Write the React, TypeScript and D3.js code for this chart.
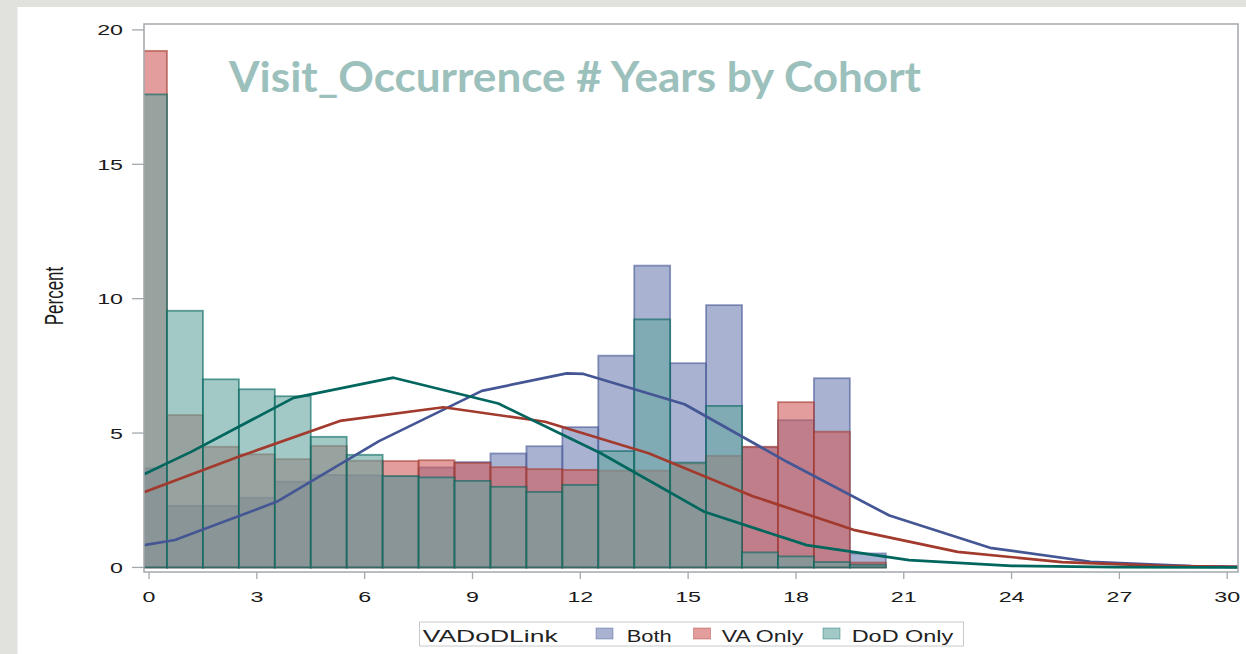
import * as d3 from 'd3';

// histogram bins (years), percent of each cohort
const years = [0, 1, 2, 3, 4, 5, 6, 7, 8, 9, 10, 11, 12, 13, 14, 15, 16, 17, 18, 19, 20];
const both = [3.69, 2.29, 2.29, 2.59, 3.19, 3.44, 3.43, 3.38, 3.72, 3.92, 4.24, 4.51, 5.22, 7.88, 11.23, 7.6, 9.76, 4.47, 5.48, 7.04, 0.52];
const vaOnly = [19.22, 5.67, 4.49, 4.21, 4.03, 4.52, 3.97, 3.96, 3.99, 3.89, 3.73, 3.66, 3.63, 3.6, 3.6, 3.86, 4.15, 4.49, 6.15, 5.05, 0.18];
const dodOnly = [17.6, 9.55, 7.0, 6.63, 6.37, 4.86, 4.19, 3.4, 3.35, 3.22, 3.0, 2.81, 3.07, 4.33, 9.23, 3.9, 6.01, 0.56, 0.41, 0.2, 0.1];

// fitted density curves, read at their vertices
const bothCurveX = [-0.14, 0.72, 3.55, 6.4, 9.26, 11.62, 12.09, 14.9, 17.75, 20.6, 23.4, 26.2, 29.0, 30.3];
const bothCurveY = [0.83, 1.02, 2.44, 4.7, 6.57, 7.22, 7.2, 6.07, 3.93, 1.93, 0.73, 0.21, 0.05, 0.02];
const vaCurveX = [-0.14, 2.45, 5.31, 8.19, 11.02, 13.9, 16.8, 19.6, 22.5, 25.4, 28.2, 30.3];
const vaCurveY = [2.8, 4.1, 5.45, 5.96, 5.42, 4.25, 2.65, 1.4, 0.58, 0.2, 0.06, 0.02];
const dodCurveX = [-0.14, 1.17, 4.02, 6.8, 9.72, 12.57, 15.45, 18.3, 21.15, 24.0, 26.85, 29.7, 30.3];
const dodCurveY = [3.47, 4.3, 6.31, 7.06, 6.1, 4.25, 2.07, 0.83, 0.27, 0.06, 0.01, 0.0, 0.0];

const xTicks = [0, 3, 6, 9, 12, 15, 18, 21, 24, 27, 30];
const yTicks = [0, 5, 10, 15, 20];
const groups = ['Both', 'VA Only', 'DoD Only'];

const fills = ['#6F7EB3', '#D05B5B', '#66A5A0'];
const lines = ['#445694', '#A23A2E', '#01665E'];

const W = 1246;
const H = 654;
const left = 144, right = 1238, top = 24, bottom = 572;
const STRETCH = 1.55;
const FONT = '"Liberation Sans", Arial, sans-serif';

export default function App() {
  const x = d3.scaleLinear().domain([-0.14, 30.3]).range([left, right]);
  const y = d3.scaleLinear().domain([-0.17, 20.22]).range([bottom, top]);

  const series = [both, vaOnly, dodOnly];
  const curves = [
    [bothCurveX, bothCurveY],
    [vaCurveX, vaCurveY],
    [dodCurveX, dodCurveY],
  ];
  const line = d3.line<[number, number]>()
    .x(d => x(d[0]))
    .y(d => y(d[1]));

  // legend layout (measured)
  const legendItems = [
    { sx: 596, tx: 626.7, tw: 45 },
    { sx: 693.5, tx: 721.7, tw: 81.6 },
    { sx: 823, tx: 851.7, tw: 101.6 },
  ];

  return (
    <svg width={W} height={H} style={{ position: 'absolute', left: 0, top: 0 }} fontFamily={FONT}>
      <defs>
        <clipPath id="plot">
          <rect x={left} y={top} width={right - left} height={bottom - top} />
        </clipPath>
      </defs>
      <rect x={0} y={0} width={W} height={H} fill="#E1E2DD" />
      <rect x={17.5} y={7} width={W - 17.5} height={H - 7} fill="#ffffff" />

      <text x={229} y={92} fontFamily="Lato, 'Open Sans', sans-serif" fontWeight={700} fontSize={42}
        fill="#9CC0BC" textLength={692} lengthAdjust="spacingAndGlyphs">
        Visit_Occurrence # Years by Cohort
      </text>

      <g clipPath="url(#plot)">
        {series.map((vals, s) => (
          <g key={groups[s]}>
            {years.map((yr, i) => (
              <rect key={yr}
                x={x(yr - 0.5)} y={y(vals[i])}
                width={x(yr + 0.5) - x(yr - 0.5)} height={y(0) - y(vals[i])}
                fill={fills[s]} fillOpacity={0.6}
                stroke={lines[s]} strokeOpacity={0.6} strokeWidth={1.8} />
            ))}
          </g>
        ))}
        {curves.map(([cx, cy], s) => (
          <path key={groups[s]}
            d={line(cx.map((v, i) => [v, cy[i]] as [number, number])) || ''}
            fill="none" stroke={lines[s]} strokeWidth={2.7} strokeLinejoin="round" />
        ))}
      </g>

      <rect x={left} y={top} width={right - left} height={bottom - top}
        fill="none" stroke="#A3A8AD" strokeWidth={1.5} />

      {yTicks.map(t => (
        <g key={t}>
          <line x1={132} x2={left} y1={y(t)} y2={y(t)} stroke="#A3A8AD" strokeWidth={1.3} />
          <text transform={`translate(123,${y(t) + 5.5}) scale(${STRETCH},1)`}
            textAnchor="end" fontSize={15} fill="#1a1a1a">{t}</text>
        </g>
      ))}
      {xTicks.map(t => (
        <g key={t}>
          <line x1={x(t)} x2={x(t)} y1={bottom} y2={bottom + 7} stroke="#A3A8AD" strokeWidth={1.3} />
          <text transform={`translate(${x(t)},602) scale(${STRETCH},1)`}
            textAnchor="middle" fontSize={15} fill="#1a1a1a">{t}</text>
        </g>
      ))}

      <text transform={`translate(62.5,296) scale(${STRETCH},1) rotate(-90)`}
        textAnchor="middle" fontSize={17} fill="#1a1a1a">Percent</text>

      <rect x={419.5} y={622} width={544} height={24} fill="#ffffff" stroke="#C8CACC" strokeWidth={1} />
      <text x={422.7} y={641.5} fontSize={16} fill="#222" textLength={135} lengthAdjust="spacingAndGlyphs">VADoDLink</text>
      {legendItems.map((it, s) => (
        <g key={groups[s]}>
          <rect x={it.sx} y={628} width={17} height={11}
            fill={fills[s]} fillOpacity={0.6} stroke={lines[s]} strokeOpacity={0.4} strokeWidth={1} />
          <text x={it.tx} y={641.5} fontSize={16} fill="#222"
            textLength={it.tw} lengthAdjust="spacingAndGlyphs">{groups[s]}</text>
        </g>
      ))}
    </svg>
  );
}
